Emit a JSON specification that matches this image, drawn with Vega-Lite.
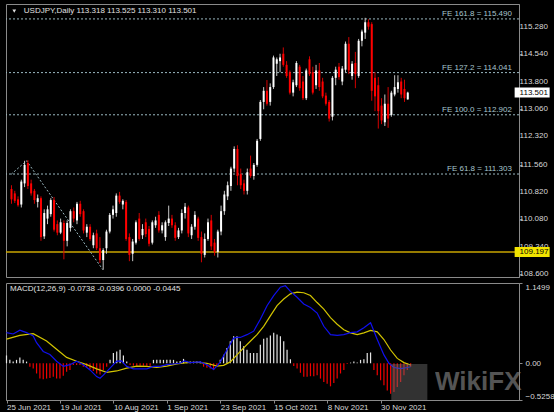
{
"$schema": "https://vega.github.io/schema/vega-lite/v6.json",
"background": "#000000",
"padding": {"left": 3, "top": 3, "right": 0, "bottom": 0},
"spacing": 3,
"config": {
  "font": "Liberation Sans",
  "view": {"stroke": "#8a8a8a", "strokeWidth": 1},
  "axis": {"labelFont": "Liberation Sans", "labelFontSize": 8, "labelColor": "#d8d8d8", "domainColor": "#8a8a8a", "tickColor": "#8a8a8a", "grid": false, "title": null, "labelOverlap": false, "labelSeparation": 0, "labelBound": false},
  "text": {"font": "Liberation Sans", "fontSize": 8}
},
"datasets": {
  "candles": [
    {"i":0,"o":110.90,"h":111.00,"l":110.50,"c":110.62},
    {"i":1,"o":110.78,"h":110.85,"l":110.52,"c":110.58},
    {"i":2,"o":110.62,"h":110.70,"l":110.42,"c":110.46},
    {"i":3,"o":110.48,"h":111.15,"l":110.40,"c":111.10},
    {"i":4,"o":111.05,"h":111.66,"l":110.95,"c":111.55},
    {"i":5,"o":111.60,"h":111.68,"l":110.90,"c":110.98},
    {"i":6,"o":111.05,"h":111.15,"l":110.72,"c":110.78},
    {"i":7,"o":110.85,"h":110.90,"l":110.50,"c":110.60},
    {"i":8,"o":110.55,"h":110.75,"l":110.40,"c":110.65},
    {"i":9,"o":110.65,"h":110.70,"l":109.50,"c":109.60},
    {"i":10,"o":109.62,"h":110.35,"l":109.55,"c":110.25},
    {"i":11,"o":110.10,"h":110.45,"l":109.95,"c":110.35},
    {"i":12,"o":110.22,"h":110.65,"l":110.15,"c":110.60},
    {"i":13,"o":110.60,"h":110.68,"l":109.75,"c":109.80},
    {"i":14,"o":109.95,"h":110.05,"l":109.65,"c":109.72},
    {"i":15,"o":109.72,"h":110.10,"l":109.68,"c":110.00},
    {"i":16,"o":109.98,"h":110.05,"l":109.00,"c":109.50},
    {"i":17,"o":109.50,"h":110.05,"l":109.35,"c":109.98},
    {"i":18,"o":109.85,"h":110.35,"l":109.75,"c":110.30},
    {"i":19,"o":110.30,"h":110.40,"l":110.00,"c":110.10},
    {"i":20,"o":110.05,"h":110.55,"l":109.95,"c":110.50},
    {"i":21,"o":110.50,"h":110.58,"l":110.15,"c":110.22},
    {"i":22,"o":110.30,"h":110.35,"l":109.70,"c":109.78},
    {"i":23,"o":109.72,"h":109.95,"l":109.60,"c":109.88},
    {"i":24,"o":109.88,"h":109.95,"l":109.50,"c":109.55},
    {"i":25,"o":109.38,"h":109.72,"l":109.30,"c":109.65},
    {"i":26,"o":109.70,"h":109.80,"l":109.25,"c":109.30},
    {"i":27,"o":109.30,"h":109.60,"l":108.90,"c":108.98},
    {"i":28,"o":108.98,"h":109.30,"l":108.72,"c":109.25},
    {"i":29,"o":109.30,"h":109.80,"l":109.15,"c":109.75},
    {"i":30,"o":109.75,"h":110.25,"l":109.70,"c":110.20},
    {"i":31,"o":110.20,"h":110.45,"l":110.10,"c":110.35},
    {"i":32,"o":110.25,"h":110.78,"l":110.15,"c":110.72},
    {"i":33,"o":110.72,"h":110.82,"l":110.50,"c":110.55},
    {"i":34,"o":110.48,"h":110.62,"l":110.35,"c":110.58},
    {"i":35,"o":110.55,"h":110.60,"l":109.50,"c":109.55},
    {"i":36,"o":109.60,"h":109.70,"l":108.95,"c":109.12},
    {"i":37,"o":109.15,"h":109.55,"l":108.95,"c":109.48},
    {"i":38,"o":109.45,"h":110.05,"l":109.40,"c":110.00},
    {"i":39,"o":110.10,"h":110.25,"l":109.50,"c":109.55},
    {"i":40,"o":109.65,"h":109.95,"l":109.55,"c":109.82},
    {"i":41,"o":110.00,"h":110.10,"l":109.60,"c":109.68},
    {"i":42,"o":109.82,"h":109.90,"l":109.35,"c":109.42},
    {"i":43,"o":109.45,"h":110.05,"l":109.40,"c":110.00},
    {"i":44,"o":109.92,"h":110.15,"l":109.85,"c":110.05},
    {"i":45,"o":110.20,"h":110.30,"l":109.72,"c":109.78},
    {"i":46,"o":109.78,"h":110.00,"l":109.70,"c":109.92},
    {"i":47,"o":109.60,"h":110.05,"l":109.50,"c":110.00},
    {"i":48,"o":109.98,"h":110.45,"l":109.90,"c":110.10},
    {"i":49,"o":110.10,"h":110.20,"l":109.85,"c":109.92},
    {"i":50,"o":109.92,"h":110.00,"l":109.50,"c":109.58},
    {"i":51,"o":109.60,"h":109.85,"l":109.55,"c":109.78},
    {"i":52,"o":109.78,"h":110.35,"l":109.70,"c":110.25},
    {"i":53,"o":110.25,"h":110.52,"l":110.10,"c":110.42},
    {"i":54,"o":110.40,"h":110.45,"l":109.60,"c":109.70},
    {"i":55,"o":109.65,"h":109.95,"l":109.55,"c":109.88},
    {"i":56,"o":109.88,"h":110.30,"l":109.80,"c":110.20},
    {"i":57,"o":110.10,"h":110.15,"l":109.50,"c":109.58},
    {"i":58,"o":109.60,"h":109.75,"l":108.92,"c":109.15},
    {"i":59,"o":109.12,"h":109.70,"l":109.05,"c":109.55},
    {"i":60,"o":109.55,"h":110.10,"l":109.50,"c":110.00},
    {"i":61,"o":110.05,"h":110.20,"l":109.25,"c":109.35},
    {"i":62,"o":109.45,"h":109.55,"l":109.10,"c":109.20},
    {"i":63,"o":109.20,"h":109.80,"l":109.05,"c":109.75},
    {"i":64,"o":109.75,"h":110.45,"l":109.65,"c":110.30},
    {"i":65,"o":110.30,"h":110.85,"l":110.20,"c":110.75},
    {"i":66,"o":110.70,"h":111.10,"l":110.60,"c":111.00},
    {"i":67,"o":110.98,"h":111.50,"l":110.85,"c":111.45},
    {"i":68,"o":111.45,"h":112.05,"l":111.35,"c":111.98},
    {"i":69,"o":111.98,"h":112.08,"l":111.00,"c":111.25},
    {"i":70,"o":111.30,"h":111.45,"l":110.90,"c":111.00},
    {"i":71,"o":111.05,"h":111.15,"l":110.75,"c":110.85},
    {"i":72,"o":110.85,"h":111.45,"l":110.75,"c":111.35},
    {"i":73,"o":111.45,"h":111.80,"l":111.20,"c":111.25},
    {"i":74,"o":111.25,"h":111.60,"l":111.15,"c":111.55},
    {"i":75,"o":111.55,"h":112.25,"l":111.50,"c":112.20},
    {"i":76,"o":112.25,"h":113.30,"l":112.20,"c":113.25},
    {"i":77,"o":113.25,"h":113.65,"l":113.05,"c":113.55},
    {"i":78,"o":113.55,"h":113.84,"l":113.15,"c":113.20},
    {"i":79,"o":113.25,"h":113.75,"l":113.15,"c":113.65},
    {"i":80,"o":113.65,"h":114.50,"l":113.60,"c":114.45},
    {"i":81,"o":114.28,"h":114.45,"l":113.95,"c":114.40},
    {"i":82,"o":114.35,"h":114.55,"l":114.05,"c":114.45},
    {"i":83,"o":114.55,"h":114.72,"l":114.20,"c":114.25},
    {"i":84,"o":114.25,"h":114.35,"l":113.90,"c":113.95},
    {"i":85,"o":114.05,"h":114.10,"l":113.45,"c":113.50},
    {"i":86,"o":113.50,"h":113.85,"l":113.40,"c":113.78},
    {"i":87,"o":113.70,"h":114.35,"l":113.65,"c":114.30},
    {"i":88,"o":114.20,"h":114.25,"l":113.55,"c":113.62},
    {"i":89,"o":113.80,"h":113.95,"l":113.30,"c":113.35},
    {"i":90,"o":113.35,"h":114.15,"l":113.30,"c":114.10},
    {"i":91,"o":114.40,"h":114.48,"l":113.95,"c":114.00},
    {"i":92,"o":114.05,"h":114.20,"l":113.45,"c":113.50},
    {"i":93,"o":113.70,"h":114.25,"l":113.60,"c":114.10},
    {"i":94,"o":114.10,"h":114.30,"l":113.55,"c":113.65},
    {"i":95,"o":113.80,"h":113.90,"l":113.35,"c":113.40},
    {"i":96,"o":113.42,"h":113.50,"l":113.15,"c":113.20},
    {"i":97,"o":113.25,"h":113.30,"l":112.72,"c":112.80},
    {"i":98,"o":112.85,"h":113.95,"l":112.75,"c":113.90},
    {"i":99,"o":113.90,"h":114.20,"l":113.70,"c":114.12},
    {"i":100,"o":114.20,"h":114.30,"l":113.85,"c":113.92},
    {"i":101,"o":113.80,"h":114.22,"l":113.70,"c":114.15},
    {"i":102,"o":114.12,"h":114.88,"l":114.05,"c":114.82},
    {"i":103,"o":114.82,"h":115.00,"l":114.00,"c":114.10},
    {"i":104,"o":113.95,"h":114.35,"l":113.85,"c":114.28},
    {"i":105,"o":114.30,"h":114.60,"l":113.62,"c":114.00},
    {"i":106,"o":113.95,"h":114.95,"l":113.90,"c":114.90},
    {"i":107,"o":114.90,"h":115.20,"l":114.75,"c":115.15},
    {"i":108,"o":115.12,"h":115.52,"l":114.95,"c":115.40},
    {"i":109,"o":115.40,"h":115.48,"l":115.20,"c":115.28},
    {"i":110,"o":115.35,"h":115.40,"l":113.28,"c":113.55},
    {"i":111,"o":113.90,"h":114.05,"l":113.00,"c":113.40},
    {"i":112,"o":113.70,"h":113.92,"l":112.53,"c":113.00},
    {"i":113,"o":113.15,"h":113.35,"l":112.65,"c":112.75},
    {"i":114,"o":112.70,"h":113.45,"l":112.60,"c":113.20},
    {"i":115,"o":113.20,"h":113.65,"l":112.55,"c":112.80},
    {"i":116,"o":112.90,"h":113.55,"l":112.85,"c":113.50},
    {"i":117,"o":113.45,"h":113.97,"l":113.40,"c":113.65},
    {"i":118,"o":113.60,"h":113.97,"l":113.50,"c":113.78},
    {"i":119,"o":113.80,"h":113.90,"l":113.35,"c":113.45},
    {"i":120,"o":113.60,"h":113.85,"l":113.25,"c":113.35},
    {"i":121,"o":113.318,"h":113.525,"l":113.310,"c":113.501}
  ],
  "fe": [
    {"label":"FE 161.8 = 115.490","p":115.49},
    {"label":"FE 127.2 = 114.041","p":114.041},
    {"label":"FE 100.0 = 112.902","p":112.902},
    {"label":"FE 61.8 = 111.303","p":111.303}
  ],
  "diag": [
    {"i":-0.1,"p":111.295},
    {"i":4.6,"p":111.66},
    {"i":27.9,"p":108.72}
  ],
  "level": [{"p":109.197}],
  "tags": [
    {"label":"113.501","p":113.501,"kind":"close"},
    {"label":"109.197","p":109.197,"kind":"line"}
  ],
  "head": [{"text":"USDJPY,Daily  113.318 113.525 113.310 113.501"}],
  "macdhead": [{"text":"MACD(12,26,9) -0.0738 -0.0396 0.0000 -0.0445"}],
  "hist": [
    {"i":0,"v":0.112},{"i":1,"v":0.049},{"i":2,"v":0.024},{"i":3,"v":0.049},{"i":4,"v":0.083},{"i":5,"v":0.049},{"i":6,"v":0.024},{"i":7,"v":-0.049},{"i":8,"v":-0.073},{"i":9,"v":-0.146},
    {"i":10,"v":-0.219},{"i":11,"v":-0.228},{"i":12,"v":-0.219},{"i":13,"v":-0.209},{"i":14,"v":-0.194},{"i":15,"v":-0.219},{"i":16,"v":-0.219},{"i":17,"v":-0.18},{"i":18,"v":-0.121},{"i":19,"v":-0.097},
    {"i":20,"v":-0.024},{"i":21,"v":-0.024},{"i":22,"v":-0.024},{"i":23,"v":-0.049},{"i":24,"v":-0.063},{"i":25,"v":-0.083},{"i":26,"v":-0.112},{"i":27,"v":-0.146},{"i":28,"v":-0.16},{"i":29,"v":-0.097},
    {"i":30,"v":-0.049},{"i":31,"v":0.049},{"i":32,"v":0.146},{"i":33,"v":0.17},{"i":34,"v":0.194},{"i":35,"v":0.112},{"i":36,"v":0.024},{"i":37,"v":-0.024},{"i":38,"v":-0.034},{"i":39,"v":-0.034},
    {"i":40,"v":-0.034},{"i":41,"v":-0.034},{"i":42,"v":-0.034},{"i":43,"v":-0.034},{"i":44,"v":0.049},{"i":45,"v":0.049},{"i":46,"v":0.049},{"i":47,"v":0.049},{"i":48,"v":0.049},{"i":49,"v":0.049},
    {"i":50,"v":0.049},{"i":51,"v":0.024},{"i":52,"v":0.034},{"i":53,"v":0.063},{"i":54,"v":0.024},{"i":55,"v":0.024},{"i":56,"v":0.024},{"i":57,"v":0.024},{"i":58,"v":0.024},{"i":59,"v":-0.049},
    {"i":60,"v":-0.063},{"i":61,"v":-0.073},{"i":62,"v":-0.097},{"i":63,"v":-0.049},{"i":64,"v":0.049},{"i":65,"v":0.121},{"i":66,"v":0.219},{"i":67,"v":0.316},{"i":68,"v":0.389},{"i":69,"v":0.389},
    {"i":70,"v":0.316},{"i":71,"v":0.243},{"i":72,"v":0.194},{"i":73,"v":0.146},{"i":74,"v":0.146},{"i":75,"v":0.146},{"i":76,"v":0.267},{"i":77,"v":0.35},{"i":78,"v":0.364},{"i":79,"v":0.398},
    {"i":80,"v":0.437},{"i":81,"v":0.413},{"i":82,"v":0.389},{"i":83,"v":0.316},{"i":84,"v":0.194},{"i":85,"v":0.058},{"i":86,"v":-0.039},{"i":87,"v":-0.073},{"i":88,"v":-0.136},{"i":89,"v":-0.194},
    {"i":90,"v":-0.194},{"i":91,"v":-0.185},{"i":92,"v":-0.185},{"i":93,"v":-0.17},{"i":94,"v":-0.219},{"i":95,"v":-0.267},{"i":96,"v":-0.292},{"i":97,"v":-0.33},{"i":98,"v":-0.282},{"i":99,"v":-0.219},
    {"i":100,"v":-0.146},{"i":101,"v":-0.097},{"i":102,"v":-0.01},{"i":103,"v":0.01},{"i":104,"v":0.024},{"i":105,"v":0.01},{"i":106,"v":0.049},{"i":107,"v":0.058},{"i":108,"v":0.146},{"i":109,"v":0.155},
    {"i":110,"v":-0.097},{"i":111,"v":-0.17},{"i":112,"v":-0.243},{"i":113,"v":-0.316},{"i":114,"v":-0.389},{"i":115,"v":-0.437},{"i":116,"v":-0.413},{"i":117,"v":-0.34},{"i":118,"v":-0.267},{"i":119,"v":-0.17},
    {"i":120,"v":-0.097},{"i":121,"v":-0.049}
  ],
  "macd": [
    {"i":0,"v":0.44},{"i":2,"v":0.42},{"i":4,"v":0.475},{"i":6,"v":0.44},{"i":8,"v":0.39},{"i":9,"v":0.295},{"i":11,"v":0.17},{"i":13,"v":0.125},{"i":15,"v":0.03},{"i":17,"v":-0.045},
    {"i":19,"v":-0.02},{"i":21,"v":0.03},{"i":23,"v":-0.02},{"i":25,"v":-0.095},{"i":27,"v":-0.19},{"i":28,"v":-0.215},{"i":29,"v":-0.17},{"i":31,"v":-0.07},{"i":33,"v":0.03},{"i":34.4,"v":0.035},
    {"i":36,"v":-0.045},{"i":38,"v":-0.08},{"i":40,"v":-0.08},{"i":42,"v":-0.08},{"i":44,"v":-0.045},{"i":46,"v":-0.045},{"i":48,"v":-0.02},{"i":50,"v":-0.01},{"i":52,"v":0.0},{"i":53.3,"v":0.035},
    {"i":55,"v":0.01},{"i":58,"v":0.02},{"i":60,"v":-0.02},{"i":62,"v":-0.09},{"i":63,"v":-0.04},{"i":64,"v":0.02},{"i":66,"v":0.19},{"i":68,"v":0.36},{"i":69,"v":0.37},{"i":70,"v":0.37},
    {"i":72,"v":0.41},{"i":74,"v":0.46},{"i":76,"v":0.63},{"i":78,"v":0.825},{"i":80,"v":0.97},{"i":82,"v":1.09},{"i":83.5,"v":1.11},{"i":85,"v":1.03},{"i":87,"v":0.945},{"i":89,"v":0.85},
    {"i":91,"v":0.8},{"i":93,"v":0.72},{"i":95,"v":0.53},{"i":97,"v":0.41},{"i":99,"v":0.40},{"i":101,"v":0.41},{"i":103,"v":0.44},{"i":105,"v":0.45},{"i":107,"v":0.51},{"i":109,"v":0.58},
    {"i":111,"v":0.34},{"i":113,"v":0.12},{"i":114.5,"v":0.0},{"i":116,"v":-0.06},{"i":118,"v":-0.075},{"i":120,"v":-0.06},{"i":121,"v":-0.05}
  ],
  "signal": [
    {"i":0,"v":0.345},{"i":4,"v":0.40},{"i":8,"v":0.425},{"i":12,"v":0.32},{"i":15,"v":0.2},{"i":18,"v":0.085},{"i":21,"v":0.03},{"i":24,"v":-0.02},{"i":27,"v":-0.08},{"i":30,"v":-0.13},
    {"i":33,"v":-0.11},{"i":36,"v":-0.07},{"i":39,"v":-0.04},{"i":42,"v":-0.045},{"i":45,"v":-0.06},{"i":48,"v":-0.04},{"i":51,"v":-0.01},{"i":54,"v":0.01},{"i":57,"v":0.015},{"i":60,"v":0.0},
    {"i":63,"v":-0.04},{"i":65,"v":-0.03},{"i":67,"v":0.02},{"i":69,"v":0.12},{"i":71,"v":0.22},{"i":73,"v":0.315},{"i":75,"v":0.41},{"i":77,"v":0.53},{"i":79,"v":0.68},{"i":81,"v":0.825},
    {"i":83,"v":0.92},{"i":85,"v":0.995},{"i":87,"v":1.02},{"i":89,"v":1.01},{"i":91,"v":0.97},{"i":93,"v":0.87},{"i":95,"v":0.775},{"i":97,"v":0.655},{"i":99,"v":0.56},{"i":101,"v":0.48},
    {"i":103,"v":0.435},{"i":105,"v":0.41},{"i":107,"v":0.435},{"i":109,"v":0.47},{"i":111,"v":0.45},{"i":113,"v":0.34},{"i":115,"v":0.19},{"i":117,"v":0.07},{"i":119,"v":0.01},{"i":121,"v":-0.025}
  ],
  "pax": [
    {"p":115.28,"label":"115.280"},{"p":114.54,"label":"114.540"},{"p":113.8,"label":"113.800"},{"p":113.06,"label":"113.060"},{"p":112.32,"label":"112.320"},
    {"p":111.56,"label":"111.560"},{"p":110.82,"label":"110.820"},{"p":110.08,"label":"110.080"},{"p":109.34,"label":"109.340"},{"p":108.6,"label":"108.600"}
  ],
  "mark": [{"name":"WikiFX"}]
},
"vconcat": [
  {
    "width": 513,
    "height": 273,
    "layer": [
      {
        "data": {"name": "fe"},
        "mark": {"type": "rule", "color": "#9ab8c0", "strokeDash": [2, 2], "strokeWidth": 1},
        "encoding": {
          "y": {"field": "p", "type": "quantitative", "scale": {"domain": [108.523, 115.893], "nice": false, "zero": false},
                "axis": {"orient": "right", "values": [115.28, 114.54, 113.8, 113.06, 112.32, 111.56, 110.82, 110.08, 109.34, 108.6], "labels": false, "tickSize": 3, "labelOverlap": false}}
        }
      },
      {
        "data": {"name": "level"},
        "mark": {"type": "rule", "color": "#c9a400", "strokeWidth": 1.6},
        "encoding": {"y": {"field": "p", "type": "quantitative"}}
      },
      {
        "data": {"name": "diag"},
        "mark": {"type": "line", "color": "#9ab8c0", "strokeDash": [2, 2], "strokeWidth": 1, "clip": true},
        "encoding": {
          "x": {"field": "i", "type": "quantitative", "scale": {"domain": [-0.15, 153.44], "nice": false, "zero": false}, "axis": null},
          "y": {"field": "p", "type": "quantitative"}
        }
      },
      {
        "data": {"name": "candles"},
        "mark": {"type": "rule", "strokeWidth": 1},
        "encoding": {
          "x": {"field": "i", "type": "quantitative"},
          "y": {"field": "l", "type": "quantitative"},
          "y2": {"field": "h"},
          "color": {"condition": {"test": "datum.c >= datum.o", "value": "#c8c8c8"}, "value": "#d40000"}
        }
      },
      {
        "data": {"name": "candles"},
        "mark": {"type": "bar", "size": 2},
        "encoding": {
          "x": {"field": "i", "type": "quantitative"},
          "y": {"field": "o", "type": "quantitative"},
          "y2": {"field": "c"},
          "color": {"condition": {"test": "datum.c >= datum.o", "value": "#ffffff"}, "value": "#ff0000"}
        }
      },
      {
        "data": {"name": "pax"},
        "mark": {"type": "text", "align": "left", "baseline": "middle", "color": "#d8d8d8", "fontSize": 8, "clip": false},
        "encoding": {
          "x": {"datum": 155.15, "type": "quantitative"},
          "y": {"field": "p", "type": "quantitative"},
          "text": {"field": "label"}
        }
      },
      {
        "data": {"name": "fe"},
        "mark": {"type": "text", "align": "right", "baseline": "bottom", "dy": -1, "color": "#a8c6cf", "fontSize": 8},
        "encoding": {
          "x": {"datum": 152.8, "type": "quantitative"},
          "y": {"field": "p", "type": "quantitative"},
          "text": {"field": "label"}
        }
      },
      {
        "data": {"name": "head"},
        "mark": {"type": "text", "align": "left", "baseline": "middle", "color": "#e0e0e0", "fontSize": 8},
        "encoding": {
          "x": {"datum": 3.75, "type": "quantitative"},
          "y": {"datum": 115.70, "type": "quantitative"},
          "text": {"field": "text"}
        }
      },
      {
        "data": {"name": "head"},
        "mark": {"type": "point", "shape": "triangle-down", "filled": true, "size": 14, "color": "#e0e0e0", "opacity": 1},
        "encoding": {
          "x": {"datum": 0.85, "type": "quantitative"},
          "y": {"datum": 115.70, "type": "quantitative"}
        }
      },
      {
        "data": {"name": "tags"},
        "mark": {"type": "tick", "orient": "horizontal", "size": 35, "thickness": 10, "opacity": 1, "clip": false},
        "encoding": {
          "x": {"datum": 158.98, "type": "quantitative"},
          "y": {"field": "p", "type": "quantitative"},
          "color": {"condition": {"test": "datum.kind == 'close'", "value": "#ffffff"}, "value": "#f2e400"}
        }
      },
      {
        "data": {"name": "tags"},
        "mark": {"type": "text", "align": "left", "baseline": "middle", "color": "#000000", "fontSize": 8},
        "encoding": {
          "x": {"datum": 155.15, "type": "quantitative"},
          "y": {"field": "p", "type": "quantitative"},
          "text": {"field": "label"}
        }
      }
    ]
  },
  {
    "width": 513,
    "height": 117,
    "layer": [
      {
        "data": {"name": "hist"},
        "mark": {"type": "rule", "strokeWidth": 1.2},
        "encoding": {
          "x": {"field": "i", "type": "quantitative", "scale": {"domain": [-0.15, 153.44], "nice": false, "zero": false},
                "axis": {"orient": "bottom", "values": [0, 16, 32, 48, 64, 80, 96, 112], "labelExpr": "['25 Jun 2021','19 Jul 2021','10 Aug 2021','1 Sep 2021','23 Sep 2021','15 Oct 2021','8 Nov 2021','30 Nov 2021'][round(datum.value/16)]", "labelAlign": "left", "tickSize": 3, "labelPadding": 0, "labelFlush": false}},
          "y": {"field": "v", "type": "quantitative", "scale": {"domain": [-0.5258, 1.1499], "nice": false, "zero": false},
                "axis": {"orient": "right", "values": [1.1499, 0, -0.5258], "labelExpr": "datum.value == 0 ? '0.00' : format(datum.value, '.4f')", "tickSize": 3, "labelPadding": 3, "labelFlush": true, "labelOverlap": false}},
          "y2": {"datum": 0},
          "color": {"condition": {"test": "datum.v >= 0", "value": "#e4e4e4"}, "value": "#f00000"}
        }
      },
      {
        "data": {"name": "signal"},
        "mark": {"type": "line", "color": "#d2c400", "strokeWidth": 1.2},
        "encoding": {
          "x": {"field": "i", "type": "quantitative"},
          "y": {"field": "v", "type": "quantitative"}
        }
      },
      {
        "data": {"name": "macd"},
        "mark": {"type": "line", "color": "#1010ee", "strokeWidth": 1.2},
        "encoding": {
          "x": {"field": "i", "type": "quantitative"},
          "y": {"field": "v", "type": "quantitative"}
        }
      },
      {
        "data": {"name": "macdhead"},
        "mark": {"type": "text", "align": "left", "baseline": "middle", "color": "#e0e0e0", "fontSize": 8},
        "encoding": {
          "x": {"datum": 1.05, "type": "quantitative"},
          "y": {"datum": 1.064, "type": "quantitative"},
          "text": {"field": "text"}
        }
      },
      {
        "data": {"name": "mark"},
        "mark": {"type": "point", "shape": "square", "filled": true, "size": 1300, "color": "#6e6e6e", "opacity": 0.45},
        "encoding": {
          "x": {"datum": 120.6, "type": "quantitative"},
          "y": {"datum": -0.268, "type": "quantitative"}
        }
      },
      {
        "data": {"name": "mark"},
        "mark": {"type": "text", "align": "left", "baseline": "top", "color": "#8c8c8c", "opacity": 0.6, "fontSize": 26, "fontWeight": "bold"},
        "encoding": {
          "x": {"datum": 128.3, "type": "quantitative"},
          "y": {"datum": -0.085, "type": "quantitative"},
          "text": {"field": "name"}
        }
      }
    ]
  }
]
}
